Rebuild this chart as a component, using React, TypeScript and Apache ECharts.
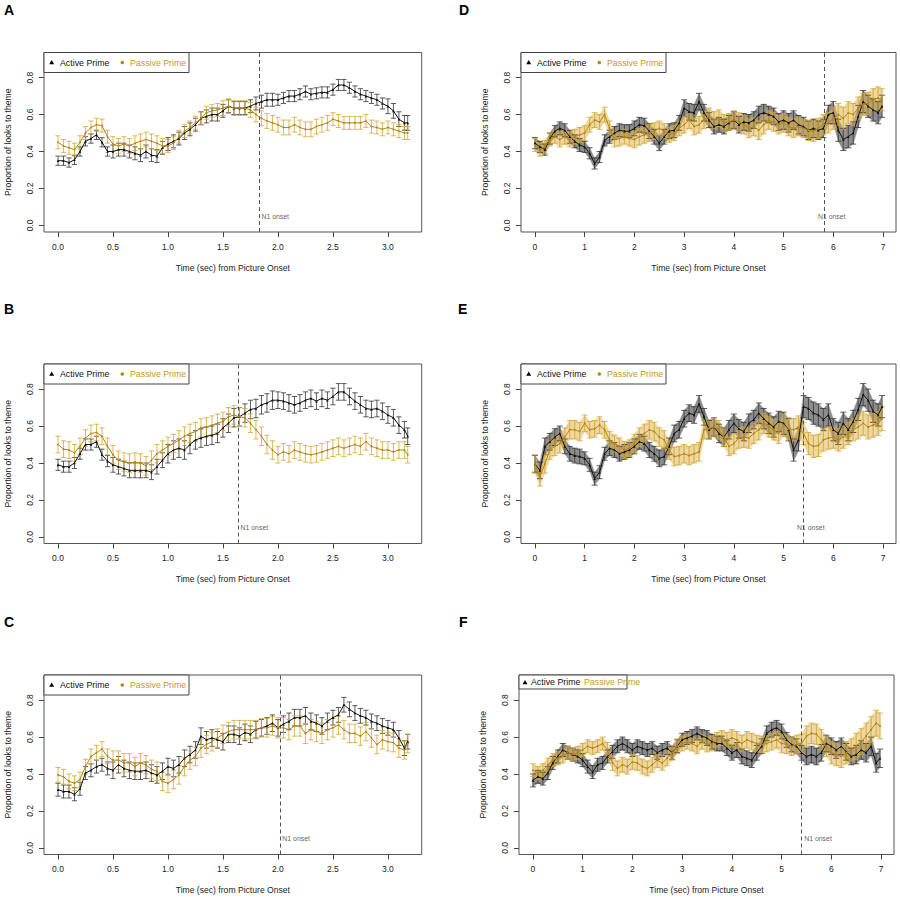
import React, { useEffect, useRef } from "react";
import * as echarts from "echarts";

// ---------- time points ----------
const timesAC = [0,0.05,0.1,0.15,0.2,0.25,0.3,0.35,0.4,0.45,0.5,0.55,0.6,0.65,0.7,0.75,0.8,0.85,0.9,0.95,1,1.05,1.1,1.15,1.2,1.25,1.3,1.35,1.4,1.45,1.5,1.55,1.6,1.65,1.7,1.75,1.8,1.85,1.9,1.95,2,2.05,2.1,2.15,2.2,2.25,2.3,2.35,2.4,2.45,2.5,2.55,2.6,2.65,2.7,2.75,2.8,2.85,2.9,2.95,3,3.05,3.1,3.15,3.18];
const timesDF = [0,0.1,0.2,0.3,0.4,0.5,0.6,0.7,0.8,0.9,1,1.1,1.2,1.3,1.4,1.5,1.6,1.7,1.8,1.9,2,2.1,2.2,2.3,2.4,2.5,2.6,2.7,2.8,2.9,3,3.1,3.2,3.3,3.4,3.5,3.6,3.7,3.8,3.9,4,4.1,4.2,4.3,4.4,4.5,4.6,4.7,4.8,4.9,5,5.1,5.2,5.3,5.4,5.5,5.6,5.7,5.8,5.9,6,6.1,6.2,6.3,6.4,6.5,6.6,6.7,6.8,6.9,6.98];

// ---------- panel A ----------
const aActive = [0.35,0.35,0.34,0.355,0.40,0.455,0.47,0.49,0.45,0.40,0.40,0.41,0.41,0.40,0.39,0.38,0.40,0.38,0.375,0.42,0.44,0.455,0.47,0.50,0.52,0.545,0.58,0.59,0.60,0.60,0.62,0.645,0.635,0.635,0.635,0.645,0.66,0.67,0.68,0.68,0.68,0.69,0.70,0.70,0.71,0.725,0.71,0.715,0.72,0.72,0.735,0.76,0.76,0.745,0.725,0.71,0.70,0.69,0.68,0.66,0.645,0.62,0.575,0.555,0.555];
const aPassive = [0.45,0.43,0.42,0.41,0.45,0.50,0.53,0.545,0.54,0.48,0.44,0.43,0.44,0.43,0.445,0.455,0.465,0.455,0.445,0.43,0.43,0.445,0.48,0.51,0.53,0.555,0.58,0.61,0.62,0.625,0.635,0.645,0.635,0.635,0.635,0.625,0.60,0.58,0.565,0.555,0.545,0.53,0.53,0.545,0.53,0.52,0.52,0.535,0.545,0.555,0.575,0.565,0.555,0.555,0.555,0.555,0.565,0.535,0.53,0.52,0.53,0.52,0.51,0.50,0.50];
// ---------- panel B ----------
const bActive = [0.39,0.38,0.38,0.40,0.45,0.50,0.50,0.515,0.445,0.41,0.39,0.38,0.37,0.36,0.36,0.36,0.36,0.35,0.38,0.415,0.45,0.47,0.48,0.47,0.50,0.525,0.535,0.545,0.55,0.56,0.59,0.615,0.645,0.65,0.67,0.69,0.695,0.715,0.725,0.74,0.74,0.735,0.725,0.715,0.725,0.74,0.75,0.735,0.75,0.74,0.76,0.785,0.785,0.76,0.735,0.715,0.695,0.69,0.695,0.68,0.66,0.645,0.605,0.58,0.545];
const bPassive = [0.50,0.475,0.47,0.455,0.49,0.535,0.56,0.565,0.545,0.49,0.445,0.415,0.405,0.40,0.405,0.40,0.385,0.415,0.45,0.47,0.49,0.505,0.525,0.545,0.56,0.57,0.59,0.595,0.605,0.615,0.625,0.65,0.66,0.65,0.645,0.615,0.58,0.545,0.50,0.47,0.445,0.46,0.45,0.47,0.46,0.45,0.445,0.45,0.46,0.47,0.48,0.49,0.48,0.49,0.50,0.49,0.515,0.49,0.48,0.47,0.47,0.46,0.47,0.47,0.445];
// ---------- panel C ----------
const cActive = [0.315,0.305,0.305,0.29,0.32,0.405,0.42,0.44,0.45,0.43,0.42,0.45,0.43,0.42,0.415,0.415,0.42,0.405,0.395,0.415,0.44,0.43,0.45,0.485,0.505,0.53,0.605,0.585,0.595,0.585,0.575,0.615,0.615,0.605,0.625,0.615,0.64,0.65,0.66,0.675,0.65,0.67,0.685,0.705,0.705,0.715,0.685,0.675,0.66,0.685,0.705,0.72,0.775,0.75,0.73,0.715,0.705,0.685,0.675,0.66,0.65,0.64,0.595,0.54,0.575];
const cPassive = [0.395,0.385,0.36,0.35,0.37,0.44,0.495,0.515,0.535,0.495,0.475,0.475,0.46,0.46,0.44,0.46,0.45,0.425,0.415,0.36,0.35,0.37,0.395,0.44,0.475,0.495,0.54,0.56,0.575,0.595,0.615,0.63,0.64,0.64,0.64,0.64,0.64,0.65,0.65,0.66,0.65,0.65,0.64,0.66,0.66,0.62,0.64,0.63,0.62,0.64,0.65,0.665,0.64,0.62,0.62,0.605,0.63,0.595,0.56,0.585,0.575,0.57,0.54,0.53,0.565];
// ---------- panel D ----------
const dActive = [0.445,0.425,0.41,0.47,0.51,0.525,0.515,0.48,0.455,0.435,0.425,0.39,0.335,0.37,0.46,0.48,0.50,0.515,0.51,0.51,0.525,0.545,0.54,0.51,0.48,0.445,0.48,0.51,0.515,0.555,0.635,0.615,0.61,0.67,0.61,0.57,0.535,0.545,0.535,0.555,0.57,0.545,0.56,0.555,0.57,0.60,0.61,0.60,0.59,0.56,0.57,0.555,0.57,0.545,0.535,0.515,0.525,0.515,0.525,0.60,0.61,0.515,0.465,0.48,0.50,0.59,0.67,0.645,0.625,0.61,0.645];
const dPassive = [0.435,0.41,0.425,0.465,0.48,0.465,0.48,0.465,0.48,0.49,0.50,0.545,0.57,0.56,0.60,0.525,0.465,0.47,0.48,0.47,0.465,0.48,0.49,0.50,0.51,0.525,0.51,0.49,0.50,0.525,0.545,0.57,0.535,0.545,0.57,0.59,0.57,0.58,0.555,0.56,0.57,0.56,0.545,0.525,0.535,0.515,0.545,0.57,0.56,0.545,0.555,0.535,0.525,0.535,0.525,0.515,0.51,0.525,0.545,0.555,0.58,0.60,0.58,0.61,0.60,0.635,0.655,0.66,0.68,0.69,0.68];
// ---------- panel E ----------
const eActive = [0.395,0.36,0.49,0.515,0.54,0.56,0.49,0.45,0.44,0.435,0.425,0.39,0.315,0.35,0.45,0.48,0.47,0.45,0.46,0.47,0.49,0.515,0.505,0.47,0.45,0.425,0.435,0.49,0.56,0.58,0.64,0.67,0.66,0.72,0.65,0.58,0.595,0.56,0.54,0.58,0.615,0.585,0.57,0.615,0.635,0.67,0.64,0.615,0.595,0.625,0.615,0.58,0.47,0.525,0.705,0.695,0.67,0.66,0.635,0.66,0.58,0.56,0.615,0.58,0.625,0.69,0.77,0.74,0.68,0.66,0.705];
const ePassive = [0.395,0.325,0.395,0.47,0.49,0.505,0.54,0.58,0.58,0.57,0.615,0.58,0.585,0.605,0.58,0.525,0.505,0.49,0.47,0.48,0.505,0.54,0.56,0.58,0.57,0.54,0.525,0.47,0.435,0.44,0.45,0.44,0.45,0.46,0.58,0.585,0.595,0.58,0.54,0.49,0.505,0.535,0.54,0.535,0.56,0.58,0.615,0.595,0.58,0.56,0.605,0.585,0.58,0.595,0.56,0.505,0.49,0.495,0.525,0.535,0.54,0.525,0.54,0.56,0.58,0.595,0.615,0.595,0.605,0.615,0.64];
// ---------- panel F ----------
const fActive = [0.365,0.385,0.375,0.405,0.46,0.495,0.53,0.515,0.505,0.495,0.475,0.44,0.41,0.45,0.46,0.495,0.52,0.55,0.565,0.55,0.53,0.55,0.54,0.53,0.54,0.515,0.53,0.54,0.515,0.55,0.585,0.595,0.605,0.62,0.605,0.595,0.575,0.565,0.565,0.54,0.515,0.53,0.495,0.485,0.475,0.515,0.55,0.62,0.64,0.65,0.63,0.585,0.56,0.55,0.515,0.495,0.505,0.495,0.515,0.565,0.55,0.53,0.55,0.52,0.495,0.505,0.53,0.515,0.55,0.46,0.485];
const fPassive = [0.42,0.405,0.42,0.45,0.475,0.485,0.495,0.515,0.505,0.515,0.53,0.55,0.54,0.55,0.565,0.53,0.46,0.43,0.45,0.44,0.465,0.46,0.44,0.43,0.45,0.475,0.46,0.485,0.515,0.55,0.565,0.575,0.565,0.55,0.575,0.56,0.565,0.585,0.595,0.585,0.595,0.585,0.565,0.585,0.575,0.565,0.56,0.565,0.575,0.585,0.565,0.56,0.55,0.56,0.565,0.605,0.62,0.615,0.585,0.55,0.515,0.505,0.495,0.515,0.53,0.55,0.575,0.605,0.64,0.675,0.66];

// ---------- standard errors, one value per half-second window ----------
const seAActive = [0.025,0.035,0.035,0.035,0.03,0.03,0.04];
const seAPassive = [0.035,0.04,0.035,0.04,0.04,0.035,0.035];
const seBActive = [0.03,0.04,0.05,0.05,0.045,0.045,0.045];
const seBPassive = [0.045,0.05,0.05,0.05,0.045,0.045,0.045];
const seCActive = [0.035,0.045,0.045,0.045,0.045,0.04,0.04];
const seCPassive = [0.04,0.05,0.05,0.05,0.055,0.05,0.05];
const seDActive = [0.03,0.035,0.03,0.035,0.04,0.04,0.045,0.04,0.045,0.045,0.05,0.05,0.06,0.06];
const seDPassive = [0.035,0.04,0.04,0.04,0.045,0.04,0.045,0.045,0.05,0.05,0.05,0.055,0.06,0.06];
const seEActive = [0.045,0.04,0.035,0.04,0.04,0.045,0.045,0.05,0.05,0.055,0.06,0.06,0.06,0.06];
const seEPassive = [0.05,0.05,0.045,0.045,0.05,0.05,0.05,0.05,0.055,0.055,0.06,0.06,0.06,0.065];
const seFActive = [0.035,0.035,0.035,0.035,0.035,0.035,0.035,0.04,0.04,0.04,0.04,0.045,0.045,0.05];
const seFPassive = [0.035,0.035,0.035,0.04,0.04,0.04,0.04,0.04,0.045,0.045,0.05,0.055,0.06,0.07];

// ---------- annotations / ticks ----------
const panelLetters = ["A", "B", "C", "D", "E", "F"];
const n1Onset = [1.83, 1.64, 2.02, 5.82, 5.39, 5.39];
const n1LabelX = [1.85, 1.66, 2.04, 5.69, 5.27, 5.455];
const xTicksAC = [0, 0.5, 1, 1.5, 2, 2.5, 3];
const xTicksDF = [0, 1, 2, 3, 4, 5, 6, 7];
const yTicks = [0, 0.2, 0.4, 0.6, 0.8];
const legendActive = "Active Prime";
const legendPassive = "Passive Prime";
const xTitle = "Time (sec) from Picture Onset";
const yTitle = "Proportion of looks to theme";

const FONT = "'Liberation Sans', Arial, Helvetica, sans-serif";
const ACTIVE_LINE = "#111111";
const ACTIVE_BAR = "#333333";
const PASSIVE_LINE = "#b5850f";
const PASSIVE_BAR = "#d6a631";
const PASSIVE_TEXT = "#c9981f";

const panelData = [
  { times: timesAC, act: aActive, pas: aPassive, seA: seAActive, seP: seAPassive, band: false },
  { times: timesAC, act: bActive, pas: bPassive, seA: seBActive, seP: seBPassive, band: false },
  { times: timesAC, act: cActive, pas: cPassive, seA: seCActive, seP: seCPassive, band: false },
  { times: timesDF, act: dActive, pas: dPassive, seA: seDActive, seP: seDPassive, band: true },
  { times: timesDF, act: eActive, pas: ePassive, seA: seEActive, seP: seEPassive, band: true },
  { times: timesDF, act: fActive, pas: fPassive, seA: seFActive, seP: seFPassive, band: true },
];

// layout (pixels)
const gridLeft = [44, 44, 44, 521, 521, 519];
const gridTop = [52.5, 364, 675, 52.5, 364, 675];
const gridWidth = [377.7, 377.7, 377.7, 375, 375, 375];
const gridHeight = 179.5;
const letterPos = [[4, 2.5], [4, 302], [4, 615], [459, 2.5], [458, 302], [459, 615]];

const seAt = (se: number[], t: number) => se[Math.min(se.length - 1, Math.floor(t / 0.5 + 1e-9))];

function errRender(color: string, cap: number) {
  return (params: any, api: any) => {
    const x = api.value(0);
    const p1 = api.coord([x, api.value(1)]);
    const p2 = api.coord([x, api.value(2)]);
    const st = { stroke: color, lineWidth: 0.8 };
    return {
      type: "group",
      children: [
        { type: "line", shape: { x1: p1[0], y1: p1[1], x2: p2[0], y2: p2[1] }, style: st },
        { type: "line", shape: { x1: p1[0] - cap, y1: p1[1], x2: p1[0] + cap, y2: p1[1] }, style: st },
        { type: "line", shape: { x1: p2[0] - cap, y1: p2[1], x2: p2[0] + cap, y2: p2[1] }, style: st },
      ],
    };
  };
}

function bandRender(fill: string) {
  return (params: any, api: any) => {
    const a = api.coord([api.value(0), api.value(1)]);
    const b = api.coord([api.value(0), api.value(2)]);
    const c = api.coord([api.value(3), api.value(5)]);
    const d = api.coord([api.value(3), api.value(4)]);
    return { type: "polygon", shape: { points: [a, b, c, d] }, style: { fill, stroke: fill, lineWidth: 0.3 } };
  };
}

function buildOption() {
  const grids: any[] = [];
  const xAxes: any[] = [];
  const yAxes: any[] = [];
  const series: any[] = [];
  const graphics: any[] = [];

  panelData.forEach((p, i) => {
    const isAC = !p.band;
    grids.push({
      left: gridLeft[i], top: gridTop[i], width: gridWidth[i], height: gridHeight,
      show: true, borderColor: "#555", borderWidth: 1, backgroundColor: "transparent",
    });
    const xt = isAC ? xTicksAC : xTicksDF;
    xAxes.push({
      type: "value", gridIndex: i,
      min: isAC ? -0.1272 : -0.28, max: isAC ? 3.3072 : 7.26,
      axisLine: { show: false, onZero: false },
      splitLine: { show: false },
      axisTick: { show: true, length: 5, customValues: xt, lineStyle: { color: "#444", width: 1 } },
      axisLabel: {
        customValues: xt, margin: 10, fontSize: 8.5, color: "#222", fontFamily: FONT,
        formatter: (v: number) => (isAC ? v.toFixed(1) : String(Math.round(v))),
      },
      name: xTitle, nameLocation: "middle", nameGap: 31,
      nameTextStyle: { fontSize: 8.6, color: "#222", fontFamily: FONT },
    });
    yAxes.push({
      type: "value", gridIndex: i, min: -0.036, max: 0.936,
      axisLine: { show: false, onZero: false },
      splitLine: { show: false },
      axisTick: { show: true, length: 5, customValues: yTicks, lineStyle: { color: "#444", width: 1 } },
      axisLabel: {
        customValues: yTicks, rotate: 90, margin: 10, fontSize: 8.5, color: "#222", fontFamily: FONT,
        formatter: (v: number) => v.toFixed(1),
      },
      name: yTitle, nameLocation: "middle", nameGap: 32,
      nameTextStyle: { fontSize: 8.6, color: "#222", fontFamily: FONT },
    });

    const times = p.times;
    const lo = (v: number[], se: number[]) => times.map((t, k) => v[k] - seAt(se, t));
    const hi = (v: number[], se: number[]) => times.map((t, k) => v[k] + seAt(se, t));
    const aLo = lo(p.act, p.seA), aHi = hi(p.act, p.seA);
    const pLo = lo(p.pas, p.seP), pHi = hi(p.pas, p.seP);

    if (p.band) {
      const bandData = (l: number[], h: number[]) =>
        times.slice(0, -1).map((t, k) => [t, l[k], h[k], times[k + 1], l[k + 1], h[k + 1]]);
      series.push({
        type: "custom", xAxisIndex: i, yAxisIndex: i, renderItem: bandRender("#8e8e8e"),
        data: bandData(aLo, aHi), encode: { x: [0, 3], y: [1, 2, 4, 5] }, silent: true, z: 1,
      });
      series.push({
        type: "custom", xAxisIndex: i, yAxisIndex: i, renderItem: bandRender("rgba(222,182,86,0.55)"),
        data: bandData(pLo, pHi), encode: { x: [0, 3], y: [1, 2, 4, 5] }, silent: true, z: 2,
      });
    }
    const cap = isAC ? 2.6 : 3;
    series.push({
      type: "custom", xAxisIndex: i, yAxisIndex: i, renderItem: errRender(ACTIVE_BAR, cap),
      data: times.map((t, k) => [t, aLo[k], aHi[k]]), encode: { x: 0, y: [1, 2] }, silent: true, z: 3,
    });
    series.push({
      type: "custom", xAxisIndex: i, yAxisIndex: i, renderItem: errRender(PASSIVE_BAR, cap),
      data: times.map((t, k) => [t, pLo[k], pHi[k]]), encode: { x: 0, y: [1, 2] }, silent: true, z: 4,
    });
    series.push({
      type: "line", xAxisIndex: i, yAxisIndex: i, z: 5,
      data: times.map((t, k) => [t, p.act[k]]),
      symbol: "triangle", symbolSize: 2.6, showSymbol: true,
      itemStyle: { color: ACTIVE_LINE }, lineStyle: { color: ACTIVE_LINE, width: 1 },
      silent: true,
      markLine: {
        silent: true, symbol: ["none", "none"], label: { show: false },
        lineStyle: { type: [4, 3], color: "#555", width: 1 },
        data: [{ xAxis: n1Onset[i] }],
      },
    });
    series.push({
      type: "line", xAxisIndex: i, yAxisIndex: i, z: 6,
      data: times.map((t, k) => [t, p.pas[k]]),
      symbol: "circle", symbolSize: 1.8, showSymbol: true,
      itemStyle: { color: PASSIVE_LINE }, lineStyle: { color: PASSIVE_LINE, width: 1 },
      silent: true,
    });
    series.push({
      type: "scatter", xAxisIndex: i, yAxisIndex: i, z: 7, silent: true,
      data: [[n1LabelX[i], 0.049]], symbolSize: 0,
      label: {
        show: true, position: "right", distance: 0, formatter: "N1 onset",
        fontSize: 6.9, color: "#333", fontFamily: FONT,
      },
    });

    // panel letter
    graphics.push({
      type: "text", x: letterPos[i][0], y: letterPos[i][1],
      style: { text: panelLetters[i], font: `bold 14px ${FONT}`, fill: "#000", textVerticalAlign: "top" },
    });

    // legend
    const gx = gridLeft[i], gy = gridTop[i];
    if (i !== 5) {
      graphics.push({
        type: "group", x: gx, y: gy, z: 100,
        children: [
          { type: "rect", shape: { x: 0, y: 0, width: 145, height: 20 }, style: { fill: "#fff", stroke: "#444", lineWidth: 1 } },
          { type: "polygon", shape: { points: [[7.7, 7.6], [10.2, 11.8], [5.2, 11.8]] }, style: { fill: "#000" } },
          { type: "text", x: 16, y: 10, style: { text: legendActive, font: `8.8px ${FONT}`, fill: "#111", textVerticalAlign: "middle" } },
          { type: "circle", shape: { cx: 78.3, cy: 10, r: 1.8 }, style: { fill: PASSIVE_LINE } },
          { type: "text", x: 86, y: 10, style: { text: legendPassive, font: `8.8px ${FONT}`, fill: PASSIVE_TEXT, textVerticalAlign: "middle" } },
        ],
      });
    } else {
      graphics.push({
        type: "group", x: gx, y: gy, z: 100,
        children: [
          { type: "rect", shape: { x: 0, y: 0, width: 108, height: 14 }, style: { fill: "#fff", stroke: "#444", lineWidth: 1 } },
          { type: "polygon", shape: { points: [[6, 5], [8.5, 9.2], [3.5, 9.2]] }, style: { fill: "#000" } },
          { type: "text", x: 12, y: 7.3, style: { text: legendActive, font: `8.8px ${FONT}`, fill: "#111", textVerticalAlign: "middle" } },
          { type: "text", x: 65, y: 7.3, style: { text: legendPassive, font: `8.8px ${FONT}`, fill: PASSIVE_TEXT, textVerticalAlign: "middle" } },
        ],
      });
    }
  });

  return {
    animation: false,
    backgroundColor: "#ffffff",
    grid: grids,
    xAxis: xAxes,
    yAxis: yAxes,
    series,
    graphic: graphics,
  };
}

export default function App() {
  const ref = useRef<HTMLDivElement>(null);
  useEffect(() => {
    if (!ref.current) return;
    const chart = echarts.init(ref.current, null, { renderer: "svg" });
    chart.setOption(buildOption() as any);
    return () => chart.dispose();
  }, []);
  return <div ref={ref} style={{ position: "fixed", left: 0, top: 0, width: 900, height: 900, background: "#fff" }} />;
}
